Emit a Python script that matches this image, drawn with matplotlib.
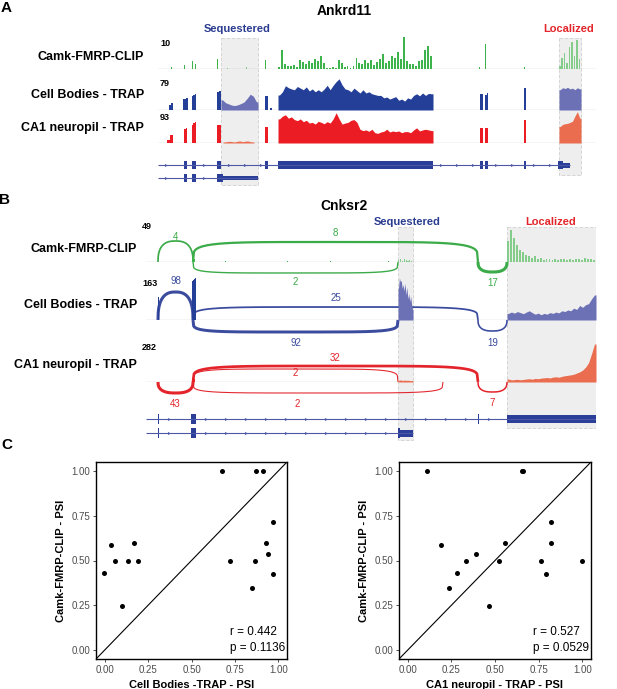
import matplotlib
matplotlib.use("Agg")
import matplotlib.pyplot as plt
import numpy as np
from matplotlib.patches import Rectangle

plt.rcParams["font.family"] = ["Liberation Sans", "DejaVu Sans"]

# ---------------- data ----------------
# panel A, Ankrd11 (x = position along the locus, track units)
a_track_names = ["Camk-FMRP-CLIP", "Cell Bodies - TRAP", "CA1 neuropil - TRAP"]
a_track_max = [10, 79, 93]
a_sequestered = (63, 100)
a_localized = (401, 423)

a_clip_big = [0.5, 6.0, 1.5, 1.0, 0.8, 1.2, 0.5, 2.8, 2.2, 1.5,
              2.5, 2.0, 3.0, 2.5, 4.0, 2.0, 0.3, 0.2, 0.5, 0.3,
              2.8, 2.0, 0.5, 1.0, 0.2, 0.8, 3.5, 2.0, 1.5, 2.8,
              2.0, 2.8, 1.2, 2.2, 3.0, 4.7, 2.0, 2.5, 4.0, 3.5,
              5.3, 3.0, 10.0, 2.5, 1.5, 1.6, 1.0, 2.4, 2.8, 6.0,
              7.2, 4.0]
a_clip_loc = [1.0, 3.5, 5.0, 2.0, 7.0, 8.5, 4.0, 9.0, 3.0]
a_cb_seq = [25, 18, 15, 12, 11, 13, 16, 20, 29, 39, 34, 20]
a_cb_big = [37, 45, 60, 55, 52, 50, 58, 54, 50, 57,
            47, 52, 45, 50, 45, 52, 61, 50, 61, 70,
            77, 62, 52, 50, 45, 54, 48, 42, 50, 42,
            45, 40, 38, 36, 36, 30, 32, 27, 30, 33,
            24, 27, 22, 30, 27, 36, 40, 35, 42, 36,
            41, 40]
a_cb_loc = [50, 55, 53, 56, 52, 54, 50, 55, 52]
a_ca1_seq = [3, 4, 5, 4, 3, 5, 6, 4, 5, 6, 4, 3]
a_ca1_big = [70, 78, 82, 72, 76, 68, 65, 70, 62, 66,
             58, 60, 55, 63, 60, 56, 62, 58, 70, 88,
             70, 55, 58, 60, 66, 68, 60, 40, 36, 38,
             34, 40, 30, 28, 32, 34, 40, 32, 35, 33,
             35, 30, 33, 33, 30, 38, 44, 35, 38, 40,
             38, 36]
a_ca1_loc = [48, 54, 56, 57, 60, 63, 78, 91, 72]

a_clip = [(13, 15, [0.7]), (26, 29, [1.2, 1.9]), (34, 40, [2.5, 4.0, 1.5, 0.6]),
          (59, 62, [3.0, 4.3]), (69, 70, [0.4]), (88, 91, [0.5, 0.4]),
          (107, 110, [2.8, 1.5]), (120, 275, a_clip_big), (321, 323, [0.6]),
          (327, 329, [7.8]), (366, 368, [0.5]), (401, 423, a_clip_loc)]
a_cb = [(11, 15, [12, 18]), (25, 30, [28, 30]), (34, 38, [35, 37, 40]),
        (59, 63, [45, 47]), (63, 100, a_cb_seq), (107, 110, [34]), (112, 114, [6]),
        (120, 275, a_cb_big), (322, 325, [40]), (327, 330, [38, 42]),
        (366, 368, [54]), (401, 423, a_cb_loc)]
a_ca1 = [(9, 15, [8, 24]), (26, 29, [40, 43]), (34, 38, [52, 57, 60]),
         (59, 63, [53]), (65, 96, a_ca1_seq), (107, 110, [47]),
         (120, 275, a_ca1_big), (322, 325, [45]), (327, 330, [45]),
         (366, 368, [66]), (401, 423, a_ca1_loc)]

a_tx1_cds = [(26, 29), (34, 38), (59, 63), (107, 110), (120, 275),
             (322, 325), (327, 330), (366, 368), (400, 405)]
a_tx1_utr = [(405, 412)]
a_tx2_cds = [(26, 29), (34, 38), (59, 65)]
a_tx2_utr = [(65, 100)]

# panel B, Cnksr2
b_track_names = ["Camk-FMRP-CLIP", "Cell Bodies - TRAP", "CA1 neuropil - TRAP"]
b_track_max = [49, 163, 282]
b_sequestered = (252, 267)
b_localized = (361, 450)

b_clip_seq = [3, 4, 2, 4, 3, 2, 3, 2]
b_clip_loc = [30, 46, 35, 25, 18, 14, 10, 8, 6, 9,
              4, 6, 3, 5, 4, 3, 5, 3, 4, 5,
              3, 4, 3, 5, 4, 3, 6, 4, 5, 3]
b_cb_seq = [120, 160, 145, 150, 120, 135, 110, 140, 95, 125, 80, 100, 70, 90, 60, 40]
b_cb_loc = [25, 30, 26, 32, 28, 24, 30, 35, 28, 22,
            26, 20, 25, 22, 28, 25, 30, 27, 35, 32,
            38, 35, 45, 40, 55, 48, 58, 62, 80, 95]
b_ca1_seq = [12, 14, 10, 13, 11, 12, 9, 10]
b_ca1_loc = [20, 14, 16, 18, 15, 17, 20, 22, 19, 24,
             22, 26, 28, 30, 27, 33, 35, 32, 38, 42,
             45, 48, 52, 60, 68, 80, 100, 130, 190, 255]

b_clip = [(46, 49, [6, 9, 5]), (79, 80, [1.5]), (141, 142, [1.5]), (184, 185, [1.5]),
          (242, 243, [1.5]), (252, 267, b_clip_seq), (361, 450, b_clip_loc)]
b_cb = [(12, 13, [87]), (46, 50, [148, 150, 155, 160]), (252, 267, b_cb_seq),
        (361, 450, b_cb_loc)]
b_ca1 = [(46, 49, [25, 33, 20]), (252, 267, b_ca1_seq), (361, 450, b_ca1_loc)]

# junctions: (donor, acceptor, read count)
b_clip_junctions = [(12, 47, 4), (47, 332, 8), (47, 252, 2), (332, 361, 17)]
b_cb_junctions = [(12, 47, 98), (47, 332, 25), (47, 252, 92), (332, 361, 19)]
b_ca1_junctions = [(12, 47, 43), (47, 332, 32), (47, 252, 2), (47, 297, 2), (332, 361, 7)]

b_tx1_cds = [(12, 13), (45, 50), (332, 333)]
b_tx1_utr = [(361, 450)]
b_tx2_cds = [(12, 13), (45, 50), (252, 254)]
b_tx2_utr = [(254, 267)]

# panel C, PSI values
cb_psi = [0.676, 0.870, 0.912, 0.969, 0.929, 0.943, 0.969, 0.847, 0.720, 0.868,
          -0.002, 0.034, 0.061, 0.100, 0.136, 0.169, 0.190]
clip_psi_left = [1.0, 1.0, 1.0, 0.714, 0.598, 0.539, 0.424, 0.344, 0.5, 0.5,
                 0.429, 0.584, 0.5, 0.247, 0.5, 0.6, 0.5]
ca1_psi = [0.113, 0.653, 0.659, 0.822, 0.822, 0.559, 0.391, 0.335, 0.521, 0.764,
           1.0, 0.791, 0.285, 0.234, 0.190, 0.466]
clip_psi_right = [1.0, 1.0, 1.0, 0.714, 0.598, 0.598, 0.537, 0.5, 0.5, 0.5,
                  0.5, 0.424, 0.429, 0.344, 0.584, 0.247]
stats_left = ("r = 0.442", "p = 0.1136")
stats_right = ("r = 0.527", "p = 0.0529")

# ---------------- styling ----------------
W, H = 617, 689
GREEN, GREEN_L = "#3cb44b", "#84cc8a"
BLUE, BLUE_L = "#243f98", "#6c71b5"
RED, RED_L = "#ec1c24", "#eb6d4f"
ARC_COLORS = ["#3aab48", "#3b4b9e", "#e3242b"]
GENE = "#2b3e98"
BASE = "#b3b3b3"
SEQ_COLOR, LOC_COLOR = "#2b3c90", "#e3262b"

fig = plt.figure(figsize=(W / 100, H / 100), dpi=100)
fig.patch.set_facecolor("white")


def px_axes(x0, y0, x1, y1):
    ax = fig.add_axes([x0 / W, 1 - y1 / H, (x1 - x0) / W, (y1 - y0) / H])
    ax.set_facecolor("none")
    ax.axis("off")
    return ax


def px_text(x, y, s, **kw):
    fig.text(x / W, 1 - y / H, s, **kw)


def in_region(mid, regions):
    return any(a <= mid <= b for a, b in regions)


def draw_coverage(ax, segments, color, light, regions, spiky=False):
    for start, end, vals in segments:
        vals = np.asarray(vals, float)
        edges = np.linspace(start, end, len(vals) + 1)
        c = light if in_region((start + end) / 2, regions) else color
        if spiky:
            ax.bar(edges[:-1], vals, width=np.diff(edges) * 0.65, align="edge",
                   color=c, linewidth=0)
        elif len(vals) >= 8:
            # jagged profile through the bin centres, vertical at the exon edges
            centres = (edges[:-1] + edges[1:]) / 2
            xs = np.concatenate([[start], centres, [end]])
            ys = np.concatenate([[vals[0]], vals, [vals[-1]]])
            ax.fill_between(xs, 0, ys, color=c, linewidth=0)
        else:
            ax.stairs(vals, edges, fill=True, color=c, linewidth=0)


def coverage_track(x0, x1, top, base, span, ymax, segments, color, light, regions, spiky):
    ax = px_axes(x0, top, x1, base)
    ax.set_xlim(0, span)
    ax.set_ylim(0, ymax)
    draw_coverage(ax, segments, color, light, regions, spiky)
    ax.axhline(0, color=BASE, lw=0.9, zorder=0)
    return ax


def shade_regions(x0, x1, y0, y1, span, regions, extents):
    ax = px_axes(x0, y0, x1, y1)
    ax.set_xlim(0, span)
    ax.set_ylim(y1, y0)
    for (a, b), (top, bot) in zip(regions, extents):
        ax.add_patch(Rectangle((a, top), b - a, bot - top, facecolor="#eeeeee",
                               edgecolor="#d6d6d6", linestyle="--", linewidth=0.7))
    return ax


def draw_transcript(ax, row, cds, utr, step, cds_h, utr_h):
    exons = sorted(cds + utr)
    ax.plot([0, exons[-1][1]], [row, row], color="#4b58a8", lw=0.8, solid_capstyle="butt")
    for a, b in cds:
        ax.add_patch(Rectangle((a, row - cds_h), max(b - a, 1), 2 * cds_h, color=GENE, lw=0))
    for a, b in utr:
        ax.add_patch(Rectangle((a, row - utr_h), b - a, 2 * utr_h, color=GENE, lw=0))
    gaps = [(0, exons[0][0])] + [(e1[1], e2[0]) for e1, e2 in zip(exons[:-1], exons[1:])]
    for a, b in gaps:
        marks = np.arange(a + step / 2, b - 3, step)
        ax.plot(marks, np.full(len(marks), row), ">", color="#4b58a8", ms=2.2, mew=0)


def arc(ax, x1, x2, h, count, cmax, color):
    n = 2.6 if (x2 - x1) < 50 else 5.0
    t = np.linspace(-1, 1, 300)
    y = h * (1 - np.abs(t) ** n) ** (1 / n)
    x = (x1 + x2) / 2 + t * (x2 - x1) / 2
    lw = 0.45 + 1.75 * (count / cmax) ** 0.55
    ax.plot(x, y, color=color, lw=lw, solid_capstyle="butt")


# ---------------- panel A ----------------
A_X0, A_X1, A_SPAN = 158, 596, 438
shade_regions(A_X0, A_X1, 30, 190, A_SPAN, [a_sequestered, a_localized], [(38, 185), (38, 175)])
a_regions = [a_sequestered, a_localized]
a_layout = [(37, 69), (78, 110), (111, 143)]
a_sets = [(a_clip, GREEN, GREEN_L, True), (a_cb, BLUE, BLUE_L, False), (a_ca1, RED, RED_L, False)]
a_label_y = [57, 95, 128]
a_num_y = [43, 83, 118]
for (top, base), (seg, c, cl, spiky), ymax, name, ly, ny in zip(
        a_layout, a_sets, a_track_max, a_track_names, a_label_y, a_num_y):
    coverage_track(A_X0, A_X1, top, base, A_SPAN, ymax, seg, c, cl, a_regions, spiky)
    px_text(144, ly, name, ha="right", va="center", fontsize=9, fontweight="bold")
    px_text(160, ny, str(ymax), ha="left", va="center", fontsize=6.5, fontweight="bold")

ga = px_axes(A_X0, 156, A_X1, 188)
ga.set_xlim(0, A_SPAN)
ga.set_ylim(23, -9)
draw_transcript(ga, 0, a_tx1_cds, a_tx1_utr, 16, 4.5, 2.5)
draw_transcript(ga, 13, a_tx2_cds, a_tx2_utr, 16, 4.0, 2.4)

px_text(6, 8, "A", ha="center", va="center", fontsize=11, fontweight="bold")
px_text(344, 11, "Ankrd11", ha="center", va="center", fontsize=10, fontweight="bold")
px_text(237, 29, "Sequestered", ha="center", va="center", fontsize=8, fontweight="bold", color=SEQ_COLOR)
px_text(569, 29, "Localized", ha="center", va="center", fontsize=8, fontweight="bold", color=LOC_COLOR)

# ---------------- panel B ----------------
B_X0, B_X1, B_SPAN = 146, 596, 450
shade_regions(B_X0, B_X1, 220, 445, B_SPAN, [b_sequestered, b_localized], [(227, 440), (227, 428)])
b_regions = [b_sequestered, b_localized]
b_layout = [(228, 262), (277, 320), (340, 382)]
b_sets = [(b_clip, GREEN, GREEN_L, True), (b_cb, BLUE, BLUE_L, False), (b_ca1, RED, RED_L, False)]
b_juncs = [b_clip_junctions, b_cb_junctions, b_ca1_junctions]
arc_heights = [[21, 20, -11, -10], [28, 13, -12, -11], [-11, 16, 13, -11, -10]]
count_y = [[25, 29, -20, -21], [39, 22, -23, -23], [-22, 24, 9, -22, -21]]
count_dx = [[0, 0, 0, 0], [0, 0, 0, 0], [0, 0, 0, -21, 0]]
b_label_y = [249, 305, 365]
b_num_y = [227, 284, 347]
for i, ((top, base), (seg, c, cl, spiky), ymax, name) in enumerate(
        zip(b_layout, b_sets, b_track_max, b_track_names)):
    aa = px_axes(B_X0, base - 48, B_X1, base + 30)
    aa.set_xlim(0, B_SPAN)
    aa.set_ylim(-30, 48)
    cmax = max(j[2] for j in b_juncs[i])
    for (s, e, n), h, cy, dx in zip(b_juncs[i], arc_heights[i], count_y[i], count_dx[i]):
        arc(aa, s, e, h, n, cmax, ARC_COLORS[i])
        aa.text((s + e) / 2 + dx, cy, str(n), ha="center", va="center", fontsize=7,
                color=ARC_COLORS[i])
    coverage_track(B_X0, B_X1, top, base, B_SPAN, ymax, seg, c, cl, b_regions, spiky)
    px_text(137, b_label_y[i], name, ha="right", va="center", fontsize=9, fontweight="bold")
    px_text(142, b_num_y[i], str(ymax), ha="left", va="center", fontsize=6.5, fontweight="bold")

gb = px_axes(B_X0, 409, B_X1, 441)
gb.set_xlim(0, B_SPAN)
gb.set_ylim(22, -10)
draw_transcript(gb, 0, b_tx1_cds, b_tx1_utr, 20, 5.0, 3.8)
draw_transcript(gb, 14, b_tx2_cds, b_tx2_utr, 20, 5.0, 3.5)

px_text(5, 200, "B", ha="center", va="center", fontsize=11, fontweight="bold")
px_text(344, 206, "Cnksr2", ha="center", va="center", fontsize=10, fontweight="bold")
px_text(407, 222, "Sequestered", ha="center", va="center", fontsize=8, fontweight="bold", color=SEQ_COLOR)
px_text(551, 222, "Localized", ha="center", va="center", fontsize=8, fontweight="bold", color=LOC_COLOR)

# ---------------- panel C ----------------
px_text(7, 445, "C", ha="center", va="center", fontsize=11, fontweight="bold")


def psi_scatter(x0, x1, xs, ys, xlabel, stat):
    ax = fig.add_axes([x0 / W, 1 - 659 / H, (x1 - x0) / W, (659 - 462) / H])
    ax.scatter(xs, ys, s=13, color="black", linewidths=0, zorder=3)
    ax.axline((0, 0), slope=1, color="black", lw=0.8)
    ax.set_xlim(-0.05, 1.05)
    ax.set_ylim(-0.05, 1.05)
    ticks = [0, 0.25, 0.5, 0.75, 1.0]
    ax.set_xticks(ticks)
    ax.set_yticks(ticks)
    ax.set_xticklabels([f"{t:.2f}" for t in ticks])
    ax.set_yticklabels([f"{t:.2f}" for t in ticks])
    ax.tick_params(length=2.5, width=0.6, color="#333333", labelcolor="#4d4d4d",
                   labelsize=7, pad=1.5)
    for sp in ax.spines.values():
        sp.set_linewidth(1.0)
    ax.set_xlabel(xlabel, fontsize=8, fontweight="bold", labelpad=4)
    ax.set_ylabel("Camk-FMRP-CLIP - PSI", fontsize=8, fontweight="bold", labelpad=4)
    ax.text(0.70, 0.137, stat[0], transform=ax.transAxes, ha="left", va="center", fontsize=8.5)
    ax.text(0.70, 0.056, stat[1], transform=ax.transAxes, ha="left", va="center", fontsize=8.5)
    return ax


psi_scatter(96, 287, cb_psi, clip_psi_left, "Cell Bodies -TRAP - PSI", stats_left)
psi_scatter(399, 591, ca1_psi, clip_psi_right, "CA1 neuropil - TRAP - PSI", stats_right)

fig.savefig("out.png", dpi=100)
